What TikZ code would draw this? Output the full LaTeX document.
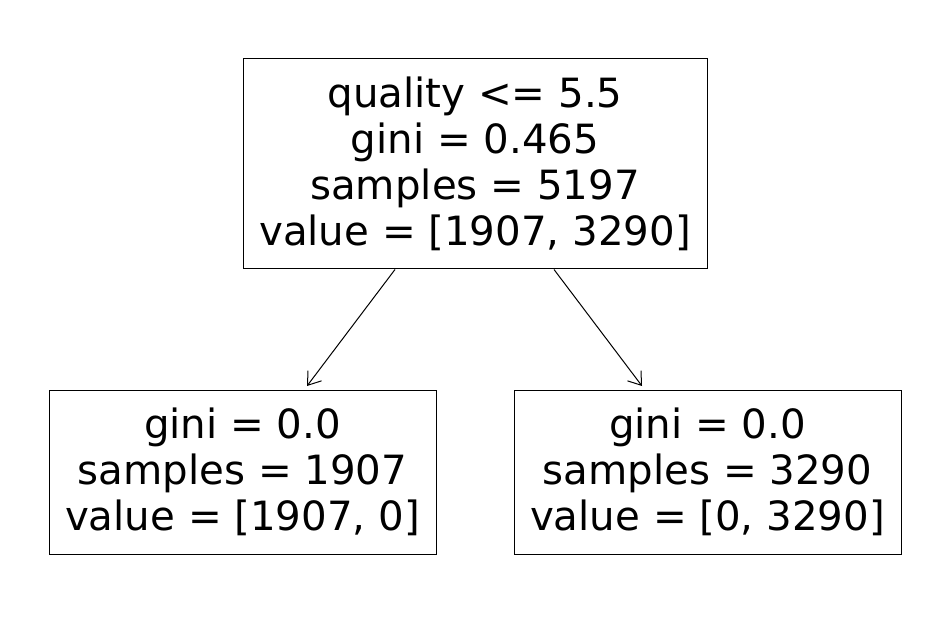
\documentclass[tikz,border=0pt]{standalone}
\usepackage{fontspec}
\setmainfont{DejaVu Sans}
\usetikzlibrary{arrows.meta, positioning}
\tikzset{>={Straight Barb[length=12pt,width=17pt]}}
\tikzset{treebox/.style={draw, line width=1pt, align=center, inner sep=0pt,
    font=\fontsize{40.3}{46}\selectfont}}

\begin{document}
\begin{tikzpicture}[x=1pt, y=-1pt]
  \useasboundingbox (0,0) rectangle (950,636);
  % root
  \node[treebox, minimum width=464pt, minimum height=210pt] (root) at (475,164)
    {quality <= 5.5\\gini = 0.465\\samples = 5197\\value = [1907, 3290]};
  % leaves
  \node[treebox, minimum width=387pt, minimum height=164pt] (left) at (242.5,472)
    {gini = 0.0\\samples = 1907\\value = [1907, 0]};
  \node[treebox, minimum width=387pt, minimum height=164pt] (right) at (707.5,472)
    {gini = 0.0\\samples = 3290\\value = [0, 3290]};
  \coordinate (lend) at (307,386);
  \coordinate (rend) at (642,386);
  \draw[->, line width=1pt] (root.south -| 395,0) -- (lend);
  \draw[->, line width=1pt] (root.south -| 554,0) -- (rend);
\end{tikzpicture}
\end{document}
